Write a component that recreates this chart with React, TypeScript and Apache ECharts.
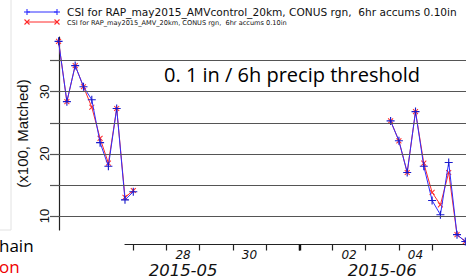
import React, { useEffect, useRef } from "react";
import * as echarts from "echarts";

// ---- data ----
const timesA = [
  "2015-05-24T18:00Z", "2015-05-25T00:00Z", "2015-05-25T06:00Z", "2015-05-25T12:00Z",
  "2015-05-25T18:00Z", "2015-05-26T00:00Z", "2015-05-26T06:00Z", "2015-05-26T12:00Z",
  "2015-05-26T18:00Z", "2015-05-27T00:00Z",
];
const timesB = [
  "2015-06-03T18:00Z", "2015-06-04T00:00Z", "2015-06-04T06:00Z", "2015-06-04T12:00Z",
  "2015-06-04T18:00Z", "2015-06-05T00:00Z", "2015-06-05T06:00Z", "2015-06-05T12:00Z",
  "2015-06-05T18:00Z", "2015-06-06T00:00Z",
];
const controlA = [38.1, 28.4, 34.2, 30.8, 28.7, 21.8, 18.0, 27.3, 12.6, 13.9];
const controlB = [25.3, 22.1, 17.0, 26.8, 18.0, 12.5, 10.2, 18.6, 7.0, 5.9];
const amvA = [38.1, 28.4, 34.2, 30.8, 27.5, 22.5, 18.5, 27.3, 13.0, 14.1];
const amvB = [25.3, 22.1, 17.0, 26.8, 18.5, 13.8, 11.8, 17.0, 7.0, 5.9];
const gapTime = "2015-05-31T00:00Z";

const yTickValues = [10, 15, 20, 25, 30, 35];
const yLabelValues = [10, 20, 30];
const dayTickTimes = [
  "2015-05-27T00:00Z", "2015-05-28T00:00Z", "2015-05-29T00:00Z", "2015-05-30T00:00Z",
  "2015-05-31T00:00Z", "2015-06-01T00:00Z", "2015-06-02T00:00Z", "2015-06-03T00:00Z",
  "2015-06-04T00:00Z", "2015-06-05T00:00Z",
];
const dayLabelTimes = ["2015-05-28T12:00Z", "2015-05-30T12:00Z", "2015-06-02T12:00Z", "2015-06-04T12:00Z"];
const dayLabelTexts = ["28", "30", "02", "04"];
const monthTickTimes = ["2015-06-01T00:00Z"];
const monthLabelTimes = ["2015-05-28T12:00Z", "2015-06-03T12:00Z"];
const monthLabelTexts = ["2015-05", "2015-06"];

const nameControl = "CSI for RAP_may2015_AMVcontrol_20km, CONUS rgn,  6hr accums 0.10in";
const nameAmv = "CSI for RAP_may2015_AMV_20km, CONUS rgn,  6hr accums 0.10in";
const titleText = "0. 1 in / 6h precip threshold";
const yName = "(x100, Matched)";

// ---- helpers ----
const base = Date.UTC(2015, 4, 27);
const toH = (s: string) => (Date.parse(s) - base) / 3.6e6;
const build = (ta: string[], va: number[], tb: string[], vb: number[]) => [
  ...ta.map((t, i) => [toH(t), va[i]]),
  [toH(gapTime), "-"],
  ...tb.map((t, i) => [toH(t), vb[i]]),
];
const labelFor = (times: string[], texts: string[]) => (v: number) => {
  const i = times.findIndex((t) => Math.abs(toH(t) - v) < 0.01);
  return i >= 0 ? texts[i] : "";
};

const PLUS = "path://M4.3,0h1.4v4.3h4.3v1.4h-4.3v4.3h-1.4v-4.3h-4.3v-1.4h4.3z";
const XMIN = -53.7;
const XMAX = 240.5;
const XAXIS_START = -6;

export default function App() {
  const ref = useRef<HTMLDivElement>(null);
  useEffect(() => {
    if (!ref.current) return;
    const chart = echarts.init(ref.current, null, { renderer: "svg" });
    const blue = "#2e2eff";
    const red = "#ff2a2a";
    const option: any = {
      animation: false,
      backgroundColor: "#ffffff",
      grid: [
        { left: 59, right: 0, top: 37, bottom: 49 },
        { left: 125, right: 0, top: 37, bottom: 32 },
      ],
      xAxis: [
        { gridIndex: 0, type: "value", min: XMIN, max: XMAX, show: false },
        {
          gridIndex: 1, type: "value", min: XAXIS_START, max: XMAX, position: "bottom",
          axisLine: { show: true, onZero: false, lineStyle: { color: "#222", width: 1.2 } },
          axisTick: { show: true, customValues: dayTickTimes.map(toH), length: 6, lineStyle: { color: "#222", width: 1.2 } },
          axisLabel: {
            customValues: dayLabelTimes.map(toH), formatter: labelFor(dayLabelTimes, dayLabelTexts),
            fontSize: 12, lineHeight: 10, fontStyle: "italic", fontFamily: "DejaVu Sans", color: "#111", margin: 5,
          },
          splitLine: { show: false },
        },
        {
          gridIndex: 1, type: "value", min: XAXIS_START, max: XMAX, position: "bottom",
          axisLine: { show: false, onZero: false },
          axisTick: { show: true, customValues: monthTickTimes.map(toH), length: 6, lineStyle: { color: "#111", width: 2.4 } },
          axisLabel: {
            customValues: monthLabelTimes.map(toH), formatter: labelFor(monthLabelTimes, monthLabelTexts),
            fontSize: 16.5, lineHeight: 13, fontStyle: "italic", fontFamily: "DejaVu Sans", color: "#111", margin: 19.5,
          },
          splitLine: { show: false },
        },
      ],
      yAxis: [
        {
          gridIndex: 0, type: "value", min: 7.75, max: 38.8,
          axisLine: { show: true, onZero: false, lineStyle: { color: "#222", width: 1.2 } },
          axisTick: { show: true, customValues: yTickValues, length: 9, lineStyle: { color: "#555", width: 1.2 } },
          axisLabel: {
            customValues: yLabelValues, rotate: 90, fontSize: 13, fontFamily: "Liberation Sans", color: "#111", margin: 8,
          },
          splitLine: { show: false },
          name: yName, nameLocation: "middle", nameRotate: 90, nameGap: 11,
          nameTextStyle: { fontSize: 15, fontFamily: "Liberation Sans", color: "#111" },
        },
        { gridIndex: 1, type: "value", min: 0, max: 1, show: false, axisLine: { onZero: false } },
      ],
      series: [
        {
          type: "line", xAxisIndex: 0, yAxisIndex: 0, name: nameAmv,
          data: build(timesA, amvA, timesB, amvB), connectNulls: false, clip: false,
          symbol: PLUS, symbolRotate: 45, symbolSize: 7, showAllSymbol: true,
          lineStyle: { color: red, width: 1 }, itemStyle: { color: red },
          markLine: {
            silent: true, symbol: ["none", "none"], label: { show: false },
            lineStyle: { color: "#555", width: 1.2, type: "solid" },
            data: yTickValues.map((v) => [{ coord: [XMIN, v] }, { coord: [XMAX, v] }]),
          },
          z: 3,
        },
        {
          type: "line", xAxisIndex: 0, yAxisIndex: 0, name: nameControl,
          data: build(timesA, controlA, timesB, controlB), connectNulls: false, clip: false,
          symbol: PLUS, symbolSize: 8, showAllSymbol: true,
          lineStyle: { color: blue, width: 1 }, itemStyle: { color: "#1a1acc" },
          z: 4,
        },
      ],
      graphic: [
        { type: "line", shape: { x1: 11, y1: 0, x2: 11, y2: 230 }, style: { stroke: "#e2e2e2", lineWidth: 1 } },
        { type: "line", shape: { x1: 0, y1: 230, x2: 11, y2: 230 }, style: { stroke: "#e2e2e2", lineWidth: 1 } },
        // legend, control
        { type: "line", shape: { x1: 27, y1: 12, x2: 57, y2: 12 }, style: { stroke: blue, lineWidth: 1 } },
        { type: "line", shape: { x1: 24, y1: 12, x2: 30, y2: 12 }, style: { stroke: blue, lineWidth: 1.1 } },
        { type: "line", shape: { x1: 27, y1: 9, x2: 27, y2: 15 }, style: { stroke: blue, lineWidth: 1.1 } },
        { type: "line", shape: { x1: 54, y1: 12, x2: 60, y2: 12 }, style: { stroke: blue, lineWidth: 1.1 } },
        { type: "line", shape: { x1: 57, y1: 9, x2: 57, y2: 15 }, style: { stroke: blue, lineWidth: 1.1 } },
        { type: "text", left: 67, top: 6, style: { text: nameControl, fontSize: 10.6, fontFamily: "DejaVu Sans", fill: "#111" } },
        // legend, amv
        { type: "line", shape: { x1: 27, y1: 22, x2: 57, y2: 22 }, style: { stroke: red, lineWidth: 1 } },
        { type: "line", shape: { x1: 24.5, y1: 19.5, x2: 29.5, y2: 24.5 }, style: { stroke: red, lineWidth: 1.1 } },
        { type: "line", shape: { x1: 24.5, y1: 24.5, x2: 29.5, y2: 19.5 }, style: { stroke: red, lineWidth: 1.1 } },
        { type: "line", shape: { x1: 54.5, y1: 19.5, x2: 59.5, y2: 24.5 }, style: { stroke: red, lineWidth: 1.1 } },
        { type: "line", shape: { x1: 54.5, y1: 24.5, x2: 59.5, y2: 19.5 }, style: { stroke: red, lineWidth: 1.1 } },
        { type: "text", left: 67, top: 19, style: { text: nameAmv, fontSize: 6.6, fontFamily: "DejaVu Sans", fill: "#111" } },
        // annotation
        { type: "text", left: 164, top: 64, style: { text: titleText, fontSize: 20, fontFamily: "Open Sans", fill: "#000" } },
        { type: "text", left: -1, top: 237, style: { text: "hain", fontSize: 17, fontFamily: "Open Sans", fill: "#000" } },
        { type: "text", left: -1, top: 258, style: { text: "on", fontSize: 17, fontFamily: "Open Sans", fill: "#ee0000" } },
      ],
    };
    chart.setOption(option);
    return () => chart.dispose();
  }, []);
  return (
    <div
      ref={ref}
      style={{ position: "fixed", left: 0, top: 0, width: 466, height: 279, background: "#fff" }}
    />
  );
}
